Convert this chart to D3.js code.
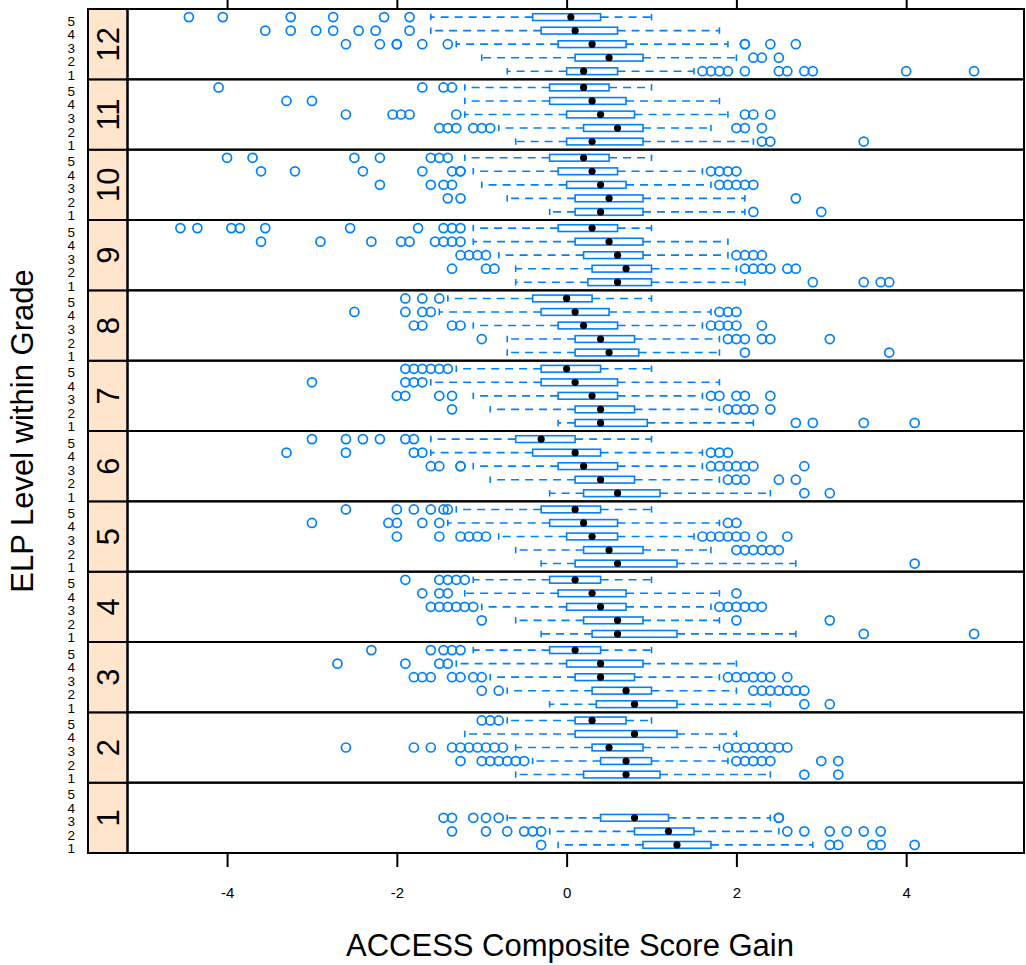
<!DOCTYPE html>
<html>
<head>
<meta charset="utf-8">
<script src="https://cdn.jsdelivr.net/npm/d3@7/dist/d3.min.js"></script>
<style>
  html, body { margin: 0; padding: 0; background: #ffffff; }
  svg { display: block; font-family: "Liberation Sans", Arial, Helvetica, sans-serif; }
</style>
</head>
<body>
<svg id="chart" width="1026" height="965"></svg>
<script>
// ---- Data: per grade, per ELP level (1..5): [lowerWhisker, Q1, median, Q3, upperWhisker]
const grades = [1, 2, 3, 4, 5, 6, 7, 8, 9, 10, 11, 12];
const levels = [1, 2, 3, 4, 5];
const xTicks = [-4, -2, 0, 2, 4];

const grade1Stats = [[-0.1,0.9,1.3,1.7,2.9],[-0.2,0.8,1.2,1.5,2.5],[-0.7,0.4,0.8,1.2,2.4],null,null];
const grade1Out = [[-0.3,3.1,3.2,3.6,3.7,4.1],[-1.35,-0.95,-0.7,-0.5,-0.4,-0.3,2.6,2.8,3.1,3.3,3.5,3.7],[-1.45,-1.35,-1.1,-0.95,-0.8,2.5,2.5],[],[]];

const grade2Stats = [[-0.6,0.2,0.7,1.1,2.4],[-0.4,0.4,0.7,1.0,1.9],[-0.6,0.3,0.5,0.9,1.8],[-1.2,0.1,0.8,1.3,2.0],[-0.7,0.1,0.3,0.7,1.0]];
const grade2Out = [[2.8,3.2],[-1.25,-1.0,-0.9,-0.8,-0.7,-0.6,-0.5,2.0,2.1,2.2,2.3,2.4,3.0,3.2],[-2.6,-1.8,-1.6,-1.35,-1.25,-1.15,-1.05,-0.95,-0.85,-0.75,1.9,2.0,2.1,2.2,2.3,2.4,2.5,2.6],[],[-1.0,-0.9,-0.8]];

const grade3Stats = [[-0.2,0.35,0.8,1.3,2.4],[-0.7,0.3,0.7,1.0,2.0],[-0.9,0.1,0.4,0.8,1.8],[-1.3,0.0,0.4,0.9,2.0],[-1.1,-0.2,0.1,0.4,1.0]];
const grade3Out = [[2.8,3.1],[-1.0,-0.8,2.2,2.3,2.4,2.5,2.6,2.7,2.8],[-1.8,-1.7,-1.6,-1.35,-1.25,-1.1,-1.0,1.9,2.0,2.1,2.2,2.3,2.4,2.6],[-2.7,-1.9,-1.5,-1.4],[-2.3,-1.6,-1.45,-1.35,-1.25]];

const grade4Stats = [[-0.3,0.3,0.6,1.3,2.7],[-0.6,0.2,0.6,0.9,1.8],[-1.0,0.0,0.4,0.7,1.7],[-1.2,-0.1,0.3,0.7,1.8],[-1.1,-0.2,0.1,0.4,1.0]];
const grade4Out = [[3.5,4.8],[-1.0,2.0,3.1],[-1.6,-1.5,-1.4,-1.3,-1.2,-1.1,1.8,1.9,2.0,2.1,2.2,2.3],[-1.7,-1.5,-1.4,2.0],[-1.9,-1.5,-1.4,-1.3,-1.2]];

const grade5Stats = [[-0.3,0.1,0.6,1.3,2.7],[-0.6,0.2,0.5,0.9,1.7],[-0.8,0.0,0.3,0.6,1.5],[-1.4,-0.2,0.2,0.6,1.8],[-1.3,-0.3,0.1,0.4,1.0]];
const grade5Out = [[4.1],[2.0,2.1,2.2,2.3,2.4,2.5],[-2.0,-1.5,-1.25,-1.15,-1.05,-0.95,1.6,1.7,1.8,1.9,2.0,2.1,2.3,2.6],[-3.0,-2.1,-2.0,-1.7,-1.5,1.9,2.0],[-2.6,-2.0,-1.8,-1.6,-1.45,-1.4]];

const grade6Stats = [[-0.2,0.2,0.6,1.1,2.4],[-0.9,0.1,0.4,0.8,1.8],[-1.1,-0.1,0.2,0.6,1.6],[-1.6,-0.4,0.1,0.4,1.6],[-1.6,-0.6,-0.3,0.1,1.0]];
const grade6Out = [[2.8,3.1],[1.9,2.0,2.1,2.5,2.7],[-1.6,-1.5,-1.25,-1.25,1.7,1.8,1.9,2.0,2.1,2.2,2.8],[-3.3,-2.6,-1.8,-1.7,1.7,1.8,1.9],[-3.0,-2.6,-2.4,-2.2,-1.9,-1.8]];

const grade7Stats = [[-0.1,0.1,0.4,0.95,2.2],[-0.9,0.1,0.4,0.8,1.8],[-1.1,-0.1,0.3,0.6,1.6],[-1.6,-0.3,0.1,0.6,1.8],[-1.3,-0.3,0.0,0.4,1.0]];
const grade7Out = [[2.7,2.9,3.5,4.1],[-1.35,1.9,2.0,2.1,2.2,2.4],[-2.0,-1.9,-1.5,-1.35,1.7,1.8,2.0,2.1,2.4],[-3.0,-1.9,-1.8,-1.7],[-1.9,-1.8,-1.7,-1.6,-1.5,-1.4]];

const grade8Stats = [[-0.7,0.1,0.5,0.85,1.8],[-0.7,0.1,0.4,0.8,1.8],[-1.1,-0.1,0.2,0.6,1.6],[-1.5,-0.3,0.1,0.5,1.7],[-1.4,-0.4,0.0,0.3,1.0]];
const grade8Out = [[2.1,3.8],[-1.0,1.9,2.0,2.1,2.3,2.4,3.1],[-1.8,-1.7,-1.35,-1.25,1.7,1.8,1.9,2.0,2.3],[-2.5,-1.9,-1.7,-1.6,1.8,1.9,2.0],[-1.9,-1.7,-1.5]];

const grade9Stats = [[-0.6,0.25,0.6,1.0,2.1],[-0.6,0.3,0.7,1.0,2.0],[-0.8,0.2,0.6,0.9,1.9],[-1.1,0.1,0.5,0.9,1.9],[-1.1,-0.1,0.3,0.6,1.0]];
const grade9Out = [[2.9,3.5,3.7,3.8],[-1.35,-0.95,-0.85,2.1,2.2,2.3,2.4,2.6,2.7],[-1.25,-1.15,-1.05,-0.95,2.0,2.1,2.2,2.3],[-3.6,-2.9,-2.3,-1.95,-1.85,-1.55,-1.45,-1.35,-1.25],[-4.55,-4.35,-3.95,-3.85,-3.55,-2.55,-1.75,-1.45,-1.35,-1.25]];

const grade10Stats = [[-0.2,0.1,0.4,0.9,2.1],[-0.7,0.1,0.5,0.9,2.1],[-1.0,0.0,0.4,0.7,1.7],[-1.1,-0.1,0.3,0.6,1.6],[-1.2,-0.2,0.2,0.5,1.0]];
const grade10Out = [[2.2,3.0],[-1.4,-1.25,2.7],[-2.2,-1.6,-1.45,-1.35,1.8,1.9,2.0,2.1,2.2],[-3.6,-3.2,-2.4,-1.7,-1.35,-1.25,-1.25,1.7,1.8,1.9,2.0],[-4.0,-3.7,-2.5,-2.2,-1.6,-1.5,-1.4]];

const grade11Stats = [[-0.6,0.0,0.3,0.9,2.2],[-0.8,0.2,0.6,0.9,1.7],[-1.2,0.0,0.4,0.8,1.9],[-1.2,-0.2,0.3,0.7,1.8],[-1.2,-0.2,0.2,0.5,1.0]];
const grade11Out = [[2.3,2.4,3.5],[-1.5,-1.4,-1.3,-1.1,-1.0,-0.9,2.0,2.1,2.3],[-2.6,-2.05,-1.95,-1.85,-1.3,2.1,2.2,2.4],[-3.3,-3.0],[-4.1,-1.7,-1.45,-1.35]];

const grade12Stats = [[-0.7,0.0,0.2,0.6,1.5],[-1.0,0.1,0.5,0.9,2.0],[-1.3,-0.1,0.3,0.7,1.9],[-1.6,-0.3,0.1,0.6,1.8],[-1.6,-0.4,0.05,0.4,1.0]];
const grade12Out = [[1.6,1.7,1.8,1.9,2.1,2.5,2.6,2.8,2.9,4.0,4.8],[2.2,2.3,2.5],[-2.6,-2.2,-2.0,-2.0,-1.7,-1.4,2.1,2.1,2.4,2.7],[-3.55,-3.25,-2.95,-2.75,-2.45,-2.25,-1.85],[-4.45,-4.05,-3.25,-2.75,-2.15,-1.85]];

const allStats = [grade1Stats, grade2Stats, grade3Stats, grade4Stats, grade5Stats, grade6Stats,
                  grade7Stats, grade8Stats, grade9Stats, grade10Stats, grade11Stats, grade12Stats];
const allOut = [grade1Out, grade2Out, grade3Out, grade4Out, grade5Out, grade6Out,
                grade7Out, grade8Out, grade9Out, grade10Out, grade11Out, grade12Out];

// ---- Layout
const svg = d3.select("#chart");
const stripL = 88, panelL = 127.5, panelR = 1024;
const plotTop = 9, plotBottom = 853;
const nP = grades.length;
const pH = (plotBottom - plotTop) / nP;
const blue = "#0080ff";

const x = d3.scaleLinear().domain([-5.173, 5.388]).range([panelL, panelR]);
const panelY = d3.scaleBand().domain(grades.slice().reverse()).range([plotTop, plotBottom]).paddingInner(0);

const boxH = pH / 5.2 * 0.5;
const capH = 6.5;

grades.forEach((g, gi) => {
  const py = panelY(g);
  const y = d3.scaleLinear().domain([0.4, 5.6]).range([py + pH, py]);
  const gp = svg.append("g");

  // strip
  gp.append("rect").attr("x", stripL).attr("y", py).attr("width", panelL - stripL).attr("height", pH)
    .attr("fill", "#ffe5cc").attr("stroke", "#000").attr("stroke-width", 2);
  gp.append("text").attr("transform", `translate(${(stripL + panelL) / 2 + 11},${py + pH / 2}) rotate(-90)`)
    .attr("text-anchor", "middle").attr("font-size", 31).attr("fill", "#000").text(g);

  // level labels
  levels.forEach(l => {
    gp.append("text").attr("x", 75).attr("y", y(l) + 8.5).attr("text-anchor", "end")
      .attr("font-size", 13.5).attr("fill", "#000").text(l);
  });

  // boxes
  const stats = allStats[gi];
  const outs = allOut[gi];
  levels.forEach((l, li) => {
    const s = stats[li];
    const cy = y(l);
    if (s) {
      const [lo, q1, med, q3, hi] = s;
      gp.append("line").attr("x1", x(q1)).attr("x2", x(lo)).attr("y1", cy).attr("y2", cy)
        .attr("stroke", blue).attr("stroke-width", 1.6).attr("stroke-dasharray", "8,6");
      gp.append("line").attr("x1", x(q3)).attr("x2", x(hi)).attr("y1", cy).attr("y2", cy)
        .attr("stroke", blue).attr("stroke-width", 1.6).attr("stroke-dasharray", "8,6");
      [lo, hi].forEach(v => {
        gp.append("line").attr("x1", x(v)).attr("x2", x(v)).attr("y1", cy - capH / 2).attr("y2", cy + capH / 2)
          .attr("stroke", blue).attr("stroke-width", 1.6);
      });
      gp.append("rect").attr("x", x(q1)).attr("y", cy - boxH / 2).attr("width", x(q3) - x(q1)).attr("height", boxH)
        .attr("fill", "none").attr("stroke", blue).attr("stroke-width", 1.6);
      gp.append("circle").attr("cx", x(med)).attr("cy", cy).attr("r", 3.6).attr("fill", "#000");
    }
    (outs[li] || []).forEach(v => {
      gp.append("circle").attr("cx", x(v)).attr("cy", cy).attr("r", 4.5)
        .attr("fill", "none").attr("stroke", blue).attr("stroke-width", 1.7);
    });
  });

  // panel frame
  gp.append("rect").attr("x", panelL).attr("y", py).attr("width", panelR - panelL).attr("height", pH)
    .attr("fill", "none").attr("stroke", "#000").attr("stroke-width", 2);
});

// axes
const xAxisB = d3.axisBottom(x).tickValues(xTicks).tickSize(14).tickPadding(20).tickFormat(d => String(d));
const gb = svg.append("g").attr("transform", `translate(0,${plotBottom})`).call(xAxisB);
gb.select(".domain").remove();
gb.selectAll(".tick line").attr("stroke", "#000").attr("stroke-width", 2);
gb.selectAll(".tick text").attr("font-size", 15).attr("fill", "#000").attr("font-family", "Liberation Sans, Arial, sans-serif");

const xAxisT = d3.axisTop(x).tickValues(xTicks).tickSize(14).tickFormat("");
const gt = svg.append("g").attr("transform", `translate(0,${plotTop})`).call(xAxisT);
gt.select(".domain").remove();
gt.selectAll(".tick line").attr("stroke", "#000").attr("stroke-width", 2);

// titles
svg.append("text").attr("x", 570).attr("y", 956).attr("text-anchor", "middle")
  .attr("font-size", 31).attr("fill", "#000").text("ACCESS Composite Score Gain");
svg.append("text").attr("transform", `translate(33,${(plotTop + plotBottom) / 2}) rotate(-90)`)
  .attr("text-anchor", "middle").attr("font-size", 31).attr("fill", "#000").text("ELP Level within Grade");
</script>
</body>
</html>
